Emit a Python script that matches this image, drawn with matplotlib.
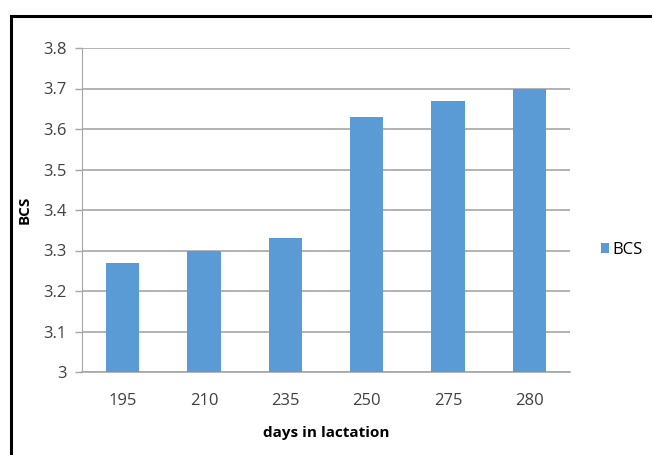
import matplotlib.pyplot as plt
from matplotlib.patches import Rectangle

days = ['195', '210', '235', '250', '275', '280']
bcs = [3.27, 3.30, 3.33, 3.63, 3.67, 3.70]
yticks = [3, 3.1, 3.2, 3.3, 3.4, 3.5, 3.6, 3.7, 3.8]
ytick_labels = ['3', '3.1', '3.2', '3.3', '3.4', '3.5', '3.6', '3.7', '3.8']

plt.rcParams['font.family'] = ['Open Sans', 'DejaVu Sans']

fig = plt.figure(figsize=(6.52, 4.55), dpi=100)
ax = fig.add_axes([82 / 652, 1 - 372 / 455, 488 / 652, 324 / 455])

x = list(range(len(days)))
ax.bar(x, bcs, width=0.41, color='#5B9BD5', label='BCS', zorder=3)

ax.set_xlim(-0.5, len(days) - 0.5)
ax.set_ylim(3, 3.8)
ax.set_yticks(yticks)
ax.set_yticklabels(ytick_labels, fontsize=12, color='#404040')
ax.set_xticks(x)
ax.set_xticklabels(days, fontsize=12, color='#404040')
ax.tick_params(axis='x', length=0, pad=15)
ax.tick_params(axis='y', length=5, width=1, color='#A6A6A6', pad=6)

ax.grid(axis='y', color='#A6A6A6', linewidth=1.2, zorder=0)
for side in ['top', 'right']:
    ax.spines[side].set_visible(False)
ax.spines['left'].set_color('#A6A6A6')
ax.spines['bottom'].set_color('#A6A6A6')
ax.spines['bottom'].set_linewidth(1.2)

ax.set_xlabel('days in lactation', fontsize=11, fontweight='bold', labelpad=12)
ax.set_ylabel('BCS', fontsize=11, fontweight='bold', labelpad=8)

fig.legend(loc='center left', bbox_to_anchor=(586 / 652, 1 - 250 / 455),
           frameon=False, fontsize=12, handlelength=0.5, handleheight=0.5,
           handletextpad=0.2)

# outer frame
fig.patches.append(Rectangle((10.5 / 652, -0.05), 1.0, 1 - 16 / 455 + 0.05,
                             transform=fig.transFigure, fill=False,
                             edgecolor='black', linewidth=2.2))

fig.savefig('out.png', dpi=100)
